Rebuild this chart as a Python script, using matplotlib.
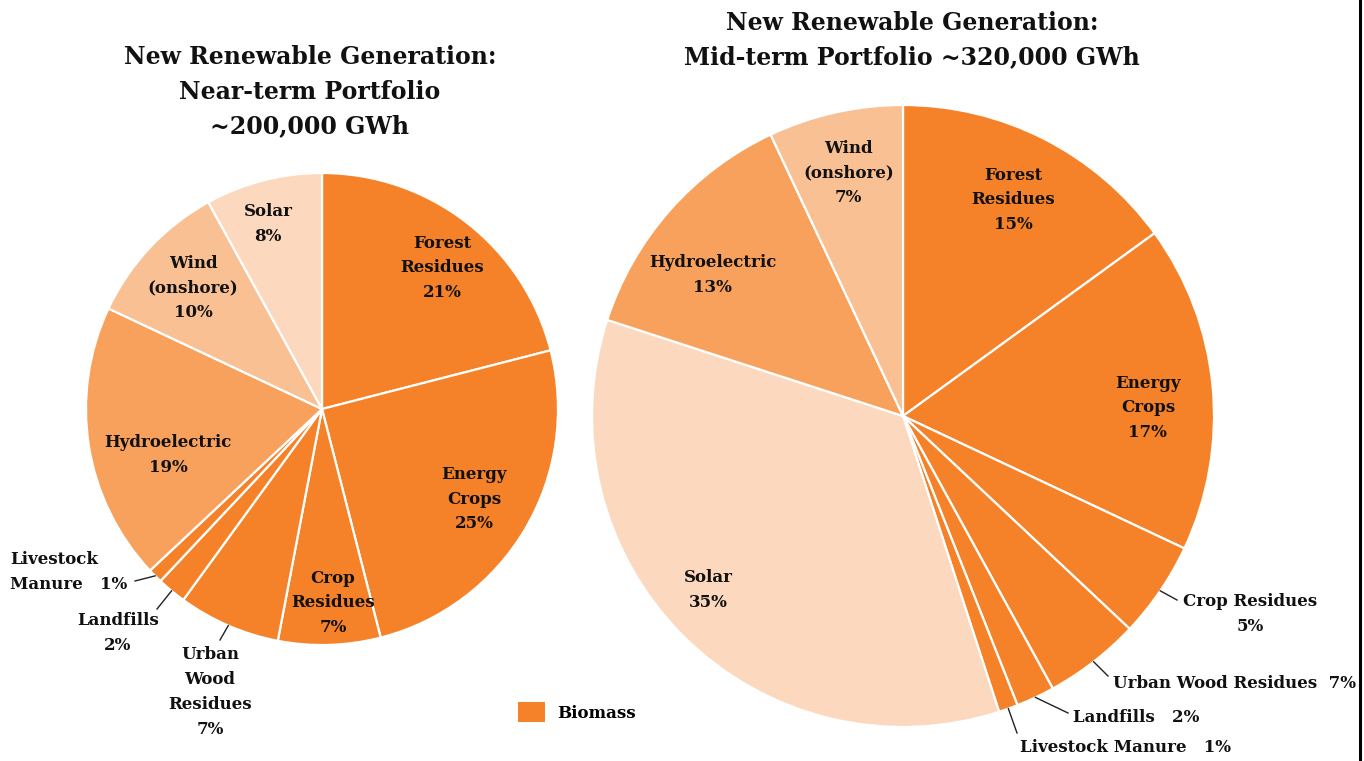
import matplotlib
matplotlib.use("Agg")
import matplotlib.pyplot as plt
import numpy as np
from matplotlib.patches import Patch
from matplotlib.lines import Line2D

# ---------------- data ----------------
near_categories = ["Forest Residues", "Energy Crops", "Crop Residues", "Urban Wood Residues",
                   "Landfills", "Livestock Manure", "Hydroelectric", "Wind (onshore)", "Solar"]
near_values = [21, 25, 7, 7, 2, 1, 19, 10, 8]
near_labels = ["Forest\nResidues\n21%", "Energy\nCrops\n25%", "Crop\nResidues\n7%",
               "Urban\nWood\nResidues\n7%", "Landfills\n2%", "Livestock\nManure   1%",
               "Hydroelectric\n19%", "Wind\n(onshore)\n10%", "Solar\n8%"]

mid_categories = ["Forest Residues", "Energy Crops", "Crop Residues", "Urban Wood Residues",
                  "Landfills", "Livestock Manure", "Solar", "Hydroelectric", "Wind (onshore)"]
mid_values = [15, 17, 5, 5, 2, 1, 35, 13, 7]
mid_labels = ["Forest\nResidues\n15%", "Energy\nCrops\n17%", "Crop Residues\n5%",
              "Urban Wood Residues  7%", "Landfills   2%", "Livestock Manure   1%",
              "Solar\n35%", "Hydroelectric\n13%", "Wind\n(onshore)\n7%"]

near_title = "New Renewable Generation:\nNear-term Portfolio\n~200,000 GWh"
mid_title = "New Renewable Generation:\nMid-term Portfolio ~320,000 GWh"
legend_label = "Biomass"

# ---------------- style ----------------
BIOMASS = "#F58228"
HYDRO = "#F7A15C"
WIND = "#F9C094"
SOLAR = "#FBD8BE"
color_map = {"Hydroelectric": HYDRO, "Wind (onshore)": WIND, "Solar": SOLAR}

FONT = "DejaVu Serif"
W, H = 1364, 761
LABEL_SIZE = 12
LABEL_LS = 1.6

fig = plt.figure(figsize=(W / 100, H / 100), dpi=100)
ax = fig.add_axes([0, 0, 1, 1])


def Y(y):
    return H - y


def draw_pie(values, cats, labels, center, radius, inside, outside):
    cols = [color_map.get(c, BIOMASS) for c in cats]
    wedges, _ = ax.pie(values, colors=cols, startangle=90, counterclock=False,
                       center=center, radius=radius, frame=True,
                       wedgeprops=dict(edgecolor="white", linewidth=1.6))
    for i, w in enumerate(wedges):
        mid_deg = (w.theta1 + w.theta2) / 2
        if i in inside:
            f, off = inside[i]
            a = np.deg2rad(mid_deg + off)
            x = center[0] + f * radius * np.cos(a)
            y = center[1] + f * radius * np.sin(a)
            ax.text(x, y, labels[i], ha="center", va="center", fontsize=LABEL_SIZE,
                    fontweight="bold", family=FONT, linespacing=LABEL_LS, color="#111111")
        elif i in outside:
            (tx, ty), (lx, ly), ha, malign = outside[i]
            a = np.deg2rad(mid_deg)
            ex = center[0] + radius * np.cos(a)
            ey = center[1] + radius * np.sin(a)
            ax.plot([ex, lx], [ey, Y(ly)], color="#222222", lw=1.0)
            ax.text(tx, Y(ty), labels[i], ha=ha, va="center", fontsize=LABEL_SIZE,
                    fontweight="bold", family=FONT, linespacing=LABEL_LS, color="#111111",
                    multialignment=malign)


# Near-term pie
draw_pie(near_values, near_categories, near_labels, (322, Y(409)), 236,
         inside={0: (0.785, -2.6), 1: (0.75, 0), 2: (0.823, 1.4),
                 6: (0.68, 7.7), 7: (0.75, 0), 8: (0.817, 1.9)},
         outside={3: ((210, 692), (220, 640), "center", "center"),
                  4: ((118, 633), (157, 609), "center", "center"),
                  5: ((10, 572), (135, 581), "left", "left")})

# Mid-term pie
draw_pie(mid_values, mid_categories, mid_labels, (903, Y(416)), 311,
         inside={0: (0.78, 0), 1: (0.788, -3.5), 6: (0.839, -3.1),
                 7: (0.762, 4.8), 8: (0.80, 0)},
         outside={2: ((1183, 614), (1177, 600), "left", "center"),
                  3: ((1113, 684), (1108, 676), "left", "left"),
                  4: ((1073, 717), (1068, 713), "left", "left"),
                  5: ((1020, 748), (1017, 733), "left", "left")})

ax.set_xlim(0, W)
ax.set_ylim(0, H)
ax.set_aspect("equal")
ax.axis("off")

# Titles
ax.text(310, Y(92), near_title, ha="center", va="center", fontsize=17,
        fontweight="bold", family=FONT, linespacing=1.56, color="#111111")
ax.text(912, Y(40), mid_title, ha="center", va="center", fontsize=17,
        fontweight="bold", family=FONT, linespacing=1.56, color="#111111")

# Legend
ax.legend(handles=[Patch(facecolor=BIOMASS, edgecolor="none", label=legend_label)],
          loc="center left", bbox_to_anchor=(503 / W, 1 - 712 / H),
          frameon=False, handlelength=1.6, handleheight=1.4, handletextpad=0.75,
          prop=dict(family=FONT, weight="bold", size=12))

# Right border line
fig.add_artist(Line2D([1360 / W, 1360 / W], [0, 1], color="black", lw=2.2,
                      transform=fig.transFigure))

fig.savefig("out.png", dpi=100, facecolor="white")
